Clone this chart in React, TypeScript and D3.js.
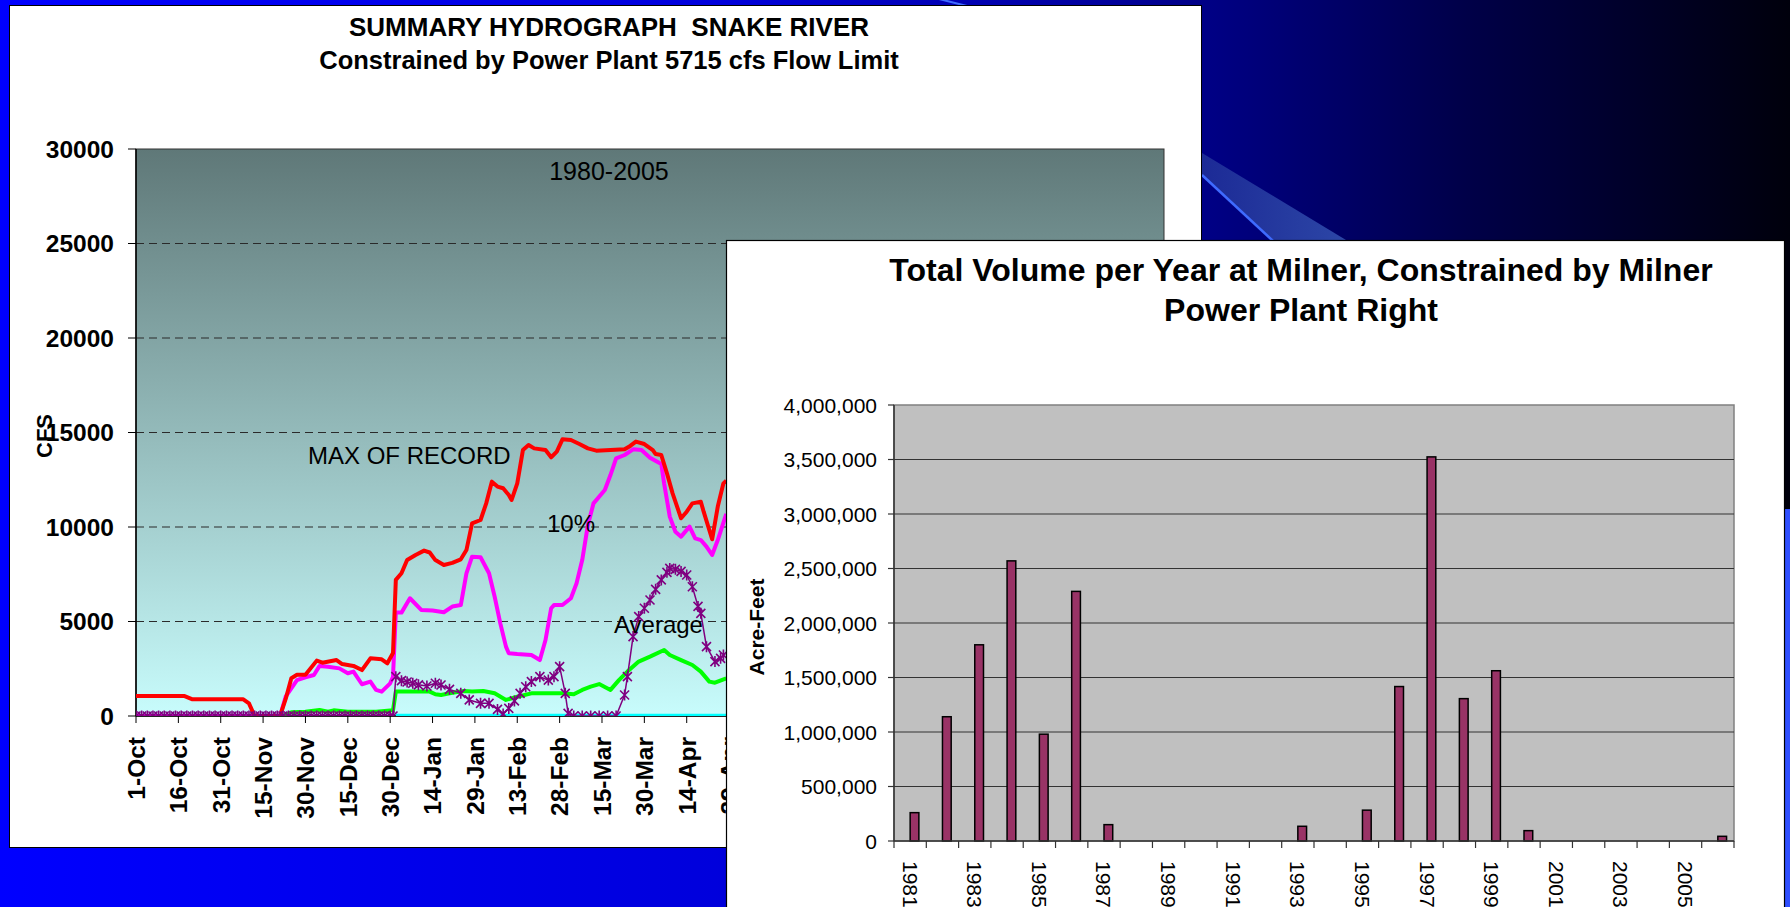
import React, { useEffect } from "react";
import * as d3 from "d3";

// ---------- Left chart: Summary hydrograph (values in cfs, x = day index from 1-Oct) ----------
const X_TICK_LABELS = [
  "1-Oct", "16-Oct", "31-Oct", "15-Nov", "30-Nov", "15-Dec", "30-Dec", "14-Jan", "29-Jan",
  "13-Feb", "28-Feb", "15-Mar", "30-Mar", "14-Apr", "29-Apr", "14-May", "29-May", "13-Jun",
  "28-Jun", "13-Jul", "28-Jul", "12-Aug", "27-Aug", "11-Sep", "26-Sep",
];
const Y_TICKS_CFS = [0, 5000, 10000, 15000, 20000, 25000, 30000];

const MAX_RECORD: [number, number][] = [
  [0, 1060], [17, 1060], [20, 880], [38, 880], [40, 670], [42, 0], [51, 0], [53, 900], [55, 2000],
  [57, 2180], [60, 2180], [64, 2930], [66, 2820], [71, 2960], [73, 2750], [77, 2650], [80, 2430],
  [83, 3050], [87, 3000], [89, 2790], [91, 3330], [92, 7200], [94, 7550], [96, 8250], [99, 8520],
  [102, 8750], [104, 8650], [106, 8250], [109, 7990], [112, 8100], [115, 8290], [117, 8780],
  [119, 10190], [122, 10370], [124, 11250], [126, 12400], [128, 12140], [130, 12050], [132, 11690],
  [133, 11430], [135, 12310], [137, 14070], [139, 14340], [141, 14160], [145, 14070], [147, 13690],
  [149, 13990], [151, 14640], [154, 14600], [157, 14390], [160, 14160], [163, 14040], [168, 14070],
  [173, 14110], [175, 14290], [177, 14520], [180, 14390], [183, 14070], [184, 13860], [186, 13810],
  [188, 12840], [190, 11780], [193, 10460], [195, 10810], [197, 11250], [200, 11340], [201, 10810],
  [204, 9350], [206, 11080], [208, 12310], [209, 12450],
];

const PCT_10: [number, number][] = [
  [0, 0], [51, 0], [53, 1020], [57, 1900], [60, 2050], [63, 2170], [65, 2650], [68, 2610],
  [72, 2520], [75, 2260], [77, 2350], [80, 1680], [83, 1820], [85, 1380], [87, 1290], [90, 1730],
  [91, 2080], [92, 5470], [94, 5470], [97, 6230], [101, 5610], [105, 5580], [109, 5490],
  [112, 5790], [115, 5870], [117, 7550], [119, 8430], [122, 8400], [125, 7550], [127, 6310],
  [129, 4900], [131, 3670], [132, 3320], [135, 3280], [140, 3230], [143, 2960], [145, 4020],
  [147, 5700], [148, 5870], [151, 5870], [154, 6230], [156, 7020], [158, 8250], [160, 10100],
  [162, 11250], [166, 11960], [168, 12750], [170, 13630], [173, 13810], [176, 14110], [179, 14070],
  [182, 13670], [186, 13330], [187, 12310], [189, 10550], [191, 9750], [193, 9490], [196, 10020],
  [198, 9400], [200, 9310], [202, 8960], [204, 8520], [206, 9310], [209, 10690],
];

const GREEN_SERIES: [number, number][] = [
  [0, 0], [52, 0], [55, 200], [60, 220], [65, 320], [68, 230], [70, 300], [75, 230], [85, 220],
  [91, 300], [92, 1290], [104, 1290], [106, 1150], [108, 1110], [111, 1200], [116, 1320],
  [119, 1290], [123, 1320], [127, 1200], [131, 850], [135, 1020], [140, 1200], [145, 1200],
  [151, 1200], [155, 1150], [158, 1380], [161, 1550], [164, 1690], [168, 1380], [171, 1900],
  [174, 2350], [178, 2880], [182, 3140], [187, 3490], [189, 3230], [193, 2960], [197, 2700],
  [200, 2350], [203, 1820], [205, 1760], [209, 1990],
];

const CYAN_SERIES: [number, number][] = [[92, 0], [209, 0]];

const AVERAGE: [number, number][] = [
  [0, 0], [2, 0], [4, 0], [6, 0], [8, 0], [10, 0], [12, 0], [14, 0], [16, 0], [18, 0], [20, 0],
  [22, 0], [24, 0], [26, 0], [28, 0], [30, 0], [32, 0], [34, 0], [36, 0], [38, 0], [40, 0],
  [42, 0], [44, 0], [46, 0], [48, 0], [50, 0], [52, 0], [54, 0], [56, 0], [58, 0], [60, 0],
  [62, 0], [64, 0], [66, 0], [68, 0], [70, 0], [72, 0], [74, 0], [76, 0], [78, 0], [80, 0],
  [82, 0], [84, 0], [86, 0], [88, 0], [90, 0], [91, 0],
  [92, 2080], [94, 1870], [96, 1800], [98, 1730], [100, 1650], [103, 1590], [106, 1730],
  [108, 1640], [111, 1410], [115, 1200], [118, 850], [122, 670], [125, 670], [128, 350],
  [130, 110], [132, 400], [134, 800], [136, 1200], [138, 1550], [140, 1820], [143, 2080],
  [146, 1900], [148, 2080], [150, 2610], [152, 1200], [153, 140], [155, 0], [158, 0], [161, 0],
  [164, 0], [167, 0], [170, 0], [173, 1110], [174, 2080], [176, 4200], [178, 5260], [180, 5700],
  [182, 6140], [184, 6700], [186, 7200], [188, 7600], [189, 7810], [191, 7760], [193, 7650],
  [195, 7460], [197, 6840], [199, 5800], [200, 5430], [202, 3670], [205, 2880], [207, 3050],
  [208, 3230],
];

// ---------- Right chart: total volume per year (acre-feet) ----------
const YEARS = [
  "1981", "1982", "1983", "1984", "1985", "1986", "1987", "1988", "1989", "1990", "1991", "1992",
  "1993", "1994", "1995", "1996", "1997", "1998", "1999", "2000", "2001", "2002", "2003", "2004",
  "2005", "2006",
];
const VOLUMES = [
  260000, 1140000, 1800000, 2570000, 980000, 2290000, 150000, 0, 0, 0, 0, 0,
  135000, 0, 283000, 1417000, 3524000, 1306000, 1562000, 95000, 0, 0, 0, 0,
  0, 43000,
];
const Y_TICKS_AF = [0, 500000, 1000000, 1500000, 2000000, 2500000, 3000000, 3500000, 4000000];

const FONT = "'Liberation Sans', Arial, Helvetica, sans-serif";

export default function App() {
  useEffect(() => {
    document.body.style.margin = "0";
  }, []);

  // left chart scales
  const x = d3.scaleLinear().domain([0, 364]).range([136, 1164]);
  const y = d3.scaleLinear().domain([0, 30000]).range([716, 149]);
  const line = d3
    .line<[number, number]>()
    .x((d) => x(d[0]))
    .y((d) => y(d[1]));

  // right chart scales
  const xb = d3.scaleBand<string>().domain(YEARS).range([894, 1734]).padding(0);
  const yb = d3.scaleLinear().domain([0, 4000000]).range([841, 405]);
  const fmt = d3.format(",");
  const bw = xb.bandwidth();

  const star = "M-4.5,-4.5L4.5,4.5M-4.5,4.5L4.5,-4.5M0,-5.5L0,5.5";

  return (
    <div style={{ position: "absolute", left: 0, top: 0 }}>
      <svg width={1790} height={907} style={{ display: "block", fontFamily: FONT }}>
        <defs>
          <linearGradient id="bg" x1="0" x2="1" y1="0" y2="0">
            <stop offset="0" stopColor="#0000ff" />
            <stop offset="0.4" stopColor="#0000dc" />
            <stop offset="0.62" stopColor="#00009c" />
            <stop offset="0.82" stopColor="#000048" />
            <stop offset="1" stopColor="#00000c" />
          </linearGradient>
          <linearGradient id="plotbg" x1="0" x2="0" y1="0" y2="1">
            <stop offset="0" stopColor="#5f7878" />
            <stop offset="1" stopColor="#c8fcfc" />
          </linearGradient>
          <linearGradient id="band" x1="0" x2="1" y1="0" y2="0">
            <stop offset="0" stopColor="#1c2a96" />
            <stop offset="1" stopColor="#2c46a6" />
          </linearGradient>
          <clipPath id="plotclip">
            <rect x={136} y={149} width={1028} height={567} />
          </clipPath>
        </defs>

        {/* background */}
        <rect x={0} y={0} width={1790} height={907} fill="url(#bg)" />
        <polygon points="1202,153 1346,240 1272,240 1202,175" fill="url(#band)" />
        <line x1={1202} y1={175} x2={1273} y2={241} stroke="#3f6bff" strokeWidth={2.5} />
        <line x1={935} y1={-2} x2={975} y2={8} stroke="#3f6bff" strokeWidth={2} />
        <rect x={1784} y={509} width={6} height={398} fill="#2f4fff" />

        {/* ---------------- Left panel ---------------- */}
        <rect x={9.5} y={5.5} width={1192} height={842} fill="#ffffff" stroke="#000" strokeWidth={1} />
        <text x={609} y={36} textAnchor="middle" fontSize={26} fontWeight="bold" style={{ whiteSpace: "pre" }}>
          {"SUMMARY HYDROGRAPH  SNAKE RIVER"}
        </text>
        <text x={609} y={69} textAnchor="middle" fontSize={25.5} fontWeight="bold">
          Constrained by Power Plant 5715 cfs Flow Limit
        </text>

        <rect x={136} y={149} width={1028} height={567} fill="url(#plotbg)" stroke="#333" strokeWidth={1} />
        {Y_TICKS_CFS.filter((v) => v > 0 && v < 30000).map((v) => (
          <line key={"g" + v} x1={136} x2={1164} y1={y(v)} y2={y(v)} stroke="#2a2a2a" strokeWidth={1.2} strokeDasharray="8,5" />
        ))}
        {Y_TICKS_CFS.map((v) => (
          <g key={"yt" + v}>
            <line x1={128} x2={136} y1={y(v)} y2={y(v)} stroke="#000" strokeWidth={1} />
            <text x={114} y={y(v)} dy="0.36em" textAnchor="end" fontSize={24.5} fontWeight="bold">
              {v}
            </text>
          </g>
        ))}
        <line x1={136} x2={136} y1={149} y2={716} stroke="#000" strokeWidth={1.5} />
        <line x1={136} x2={1164} y1={716} y2={716} stroke="#000" strokeWidth={1.5} />
        {X_TICK_LABELS.map((lab, i) => (
          <g key={"xt" + lab}>
            <line x1={x(i * 15)} x2={x(i * 15)} y1={716} y2={723} stroke="#000" strokeWidth={1} />
            <text
              transform={`translate(${x(i * 15)},737) rotate(-90)`}
              textAnchor="end"
              dy="0.36em"
              fontSize={24.5}
              fontWeight="bold"
            >
              {lab}
            </text>
          </g>
        ))}
        <text transform="translate(44,436) rotate(-90)" textAnchor="middle" dy="0.36em" fontSize={22} fontWeight="bold">
          CFS
        </text>

        <g clipPath="url(#plotclip)" fill="none" strokeLinejoin="round">
          <path d={line(CYAN_SERIES) || ""} stroke="#00ffff" strokeWidth={4.5} />
          <path d={line(GREEN_SERIES) || ""} stroke="#00ff00" strokeWidth={4} />
          <path d={line(PCT_10) || ""} stroke="#ff00ff" strokeWidth={4} />
          <path d={line(MAX_RECORD) || ""} stroke="#ff0000" strokeWidth={4} />
          <path d={line(AVERAGE) || ""} stroke="#800080" strokeWidth={1.5} />
          {AVERAGE.map((d, i) => (
            <path key={"m" + i} d={star} transform={`translate(${x(d[0])},${y(d[1])})`} stroke="#800080" strokeWidth={1.6} />
          ))}
        </g>

        <text x={609} y={180} textAnchor="middle" fontSize={25}>1980-2005</text>
        <text x={308} y={464} fontSize={24}>MAX OF RECORD</text>
        <text x={547} y={532} fontSize={24}>10%</text>
        <text x={614} y={633} fontSize={24}>Average</text>

        {/* ---------------- Right panel ---------------- */}
        <rect x={726.5} y={240.5} width={1058} height={700} fill="#ffffff" stroke="#000" strokeWidth={1.2} />
        <text x={1301} y={281} textAnchor="middle" fontSize={32} fontWeight="bold">
          Total Volume per Year at Milner, Constrained by Milner
        </text>
        <text x={1301} y={321} textAnchor="middle" fontSize={32} fontWeight="bold">
          Power Plant Right
        </text>

        <rect x={894} y={405} width={840} height={436} fill="#c0c0c0" stroke="#808080" strokeWidth={1.5} />
        {Y_TICKS_AF.filter((v) => v > 0 && v < 4000000).map((v) => (
          <line key={"bg" + v} x1={894} x2={1734} y1={yb(v)} y2={yb(v)} stroke="#333" strokeWidth={1.2} />
        ))}
        {Y_TICKS_AF.map((v) => (
          <g key={"byt" + v}>
            <line x1={888} x2={894} y1={yb(v)} y2={yb(v)} stroke="#333" strokeWidth={1.2} />
            <text x={877} y={yb(v)} dy="0.36em" textAnchor="end" fontSize={21}>
              {fmt(v)}
            </text>
          </g>
        ))}
        {YEARS.map((yr, i) =>
          VOLUMES[i] > 0 ? (
            <rect
              key={"bar" + yr}
              x={(xb(yr) as number) + bw / 2}
              y={yb(VOLUMES[i])}
              width={bw * 0.27}
              height={yb(0) - yb(VOLUMES[i])}
              fill="#993366"
              stroke="#000"
              strokeWidth={1.5}
            />
          ) : null
        )}
        <line x1={894} x2={894} y1={405} y2={841} stroke="#333" strokeWidth={1.5} />
        <line x1={894} x2={1734} y1={841} y2={841} stroke="#333" strokeWidth={1.5} />
        {YEARS.map((yr) => (
          <line key={"bt" + yr} x1={xb(yr) as number} x2={xb(yr) as number} y1={841} y2={848} stroke="#333" strokeWidth={1.2} />
        ))}
        <line x1={1734} x2={1734} y1={841} y2={848} stroke="#333" strokeWidth={1.2} />
        {YEARS.filter((_, i) => i % 2 === 0).map((yr) => (
          <text
            key={"bl" + yr}
            transform={`translate(${(xb(yr) as number) + bw / 2},861) rotate(90)`}
            dy="0.36em"
            fontSize={21}
          >
            {yr}
          </text>
        ))}
        <text transform="translate(756,627) rotate(-90)" textAnchor="middle" dy="0.36em" fontSize={21} fontWeight="bold">
          Acre-Feet
        </text>
      </svg>
    </div>
  );
}
